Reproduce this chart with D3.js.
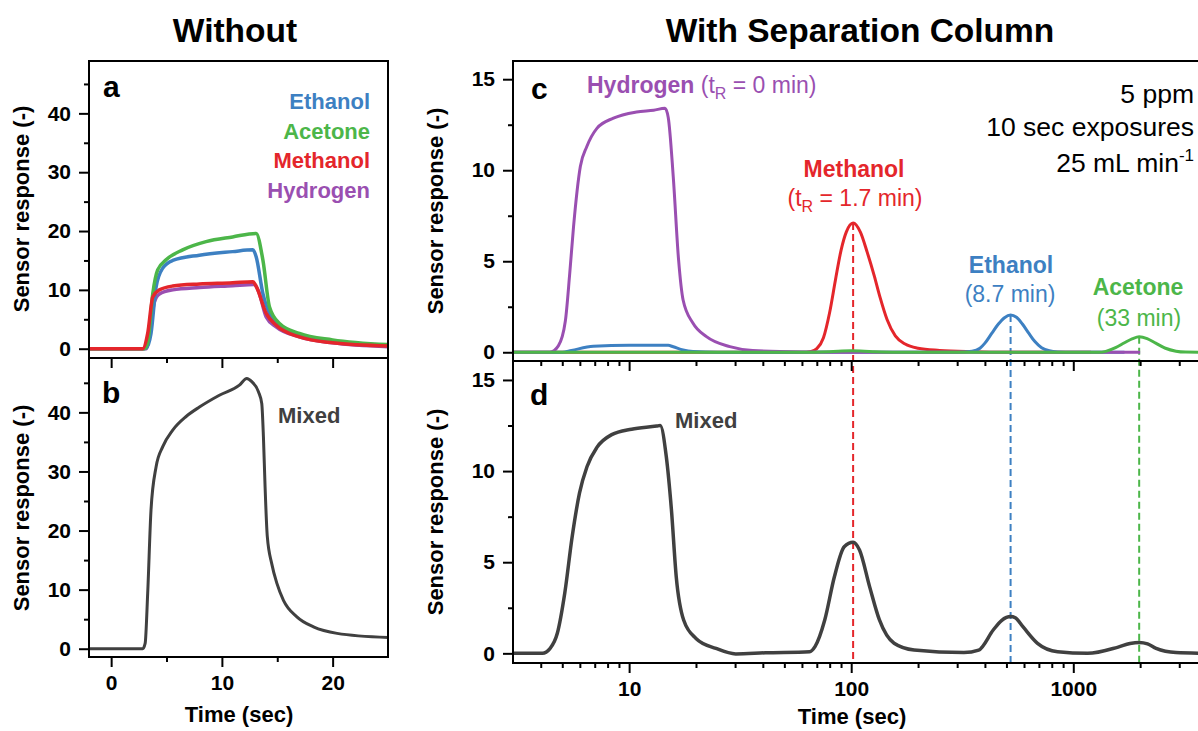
<!DOCTYPE html>
<html>
<head>
<meta charset="utf-8">
<script src="https://cdn.jsdelivr.net/npm/d3@7"></script>
<style>
  body { margin: 0; background: #fff; }
  svg { display: block; font-family: "Liberation Sans", Arial, sans-serif; }
</style>
</head>
<body>
<div id="chart"></div>
<script>
// ---- data: [time (sec), sensor response] ----
// panel a (no column, linear time)
var ethanolA  = [[-2,0],[2.9,0],[3.16,0.1],[3.6,2.6],[4.06,10.5],[4.66,13.7],[5.56,15.0],[7.97,15.9],[10.97,16.5],[12.8,16.8],[13.1,15.6],[13.7,9.4],[14.3,6.0],[15.5,3.7],[17,2.3],[20,1.2],[25,0.55]];
var acetoneA  = [[-2,0],[3.0,0],[3.3,1.0],[3.76,9.4],[4.2,13.4],[4.96,15.1],[6.46,16.8],[8.57,18.2],[10.97,19.0],[13.09,19.6],[13.7,15.1],[14.3,7.1],[15.2,4.3],[17,2.6],[20,1.5],[25,0.7]];
var methanolA = [[-2,0],[2.85,0],[3.3,2.6],[3.76,8.8],[4.36,10.0],[5.56,10.65],[7.97,11.0],[10.97,11.2],[12.8,11.4],[13.1,10.6],[14.0,6.0],[14.9,4.0],[17,2.0],[20,1.0],[25,0.45]];
var hydrogenA = [[-2,0],[3.16,0],[3.5,3.0],[3.9,7.9],[4.36,9.3],[5.56,10.0],[7.97,10.4],[10.97,10.7],[12.9,10.9],[13.3,9.8],[14.0,5.4],[14.9,3.7],[17,2.0],[20,1.0],[25,0.35]];
// panel b (mixed, no column)
var mixedB = [[-2,0],[2.85,0],[3.07,0.9],[3.3,9.4],[3.6,23.5],[4.06,30.8],[4.66,34.2],[5.56,37.0],[6.77,39.3],[7.97,40.9],[9.77,42.9],[11.58,44.6],[12.25,45.75],[12.7,45.2],[13.3,43.5],[13.6,41.5],[13.75,35.9],[13.9,27.4],[14.1,19.0],[14.5,14.4],[14.96,11.1],[15.56,8.2],[16.77,5.4],[18.27,3.7],[20.4,2.6],[25,1.9]];

// panel c (with separation column, log time)
var methanolC = [[3,0],[60,0],[66,0.05],[70,0.2],[75,0.8],[80,2.2],[85,4.0],[90,5.6],[95,6.6],[102,7.1],[110,6.6],[118,5.5],[127,4.2],[135,3.0],[145,1.8],[158,0.9],[175,0.45],[200,0.22],[250,0.1],[350,0.03],[500,0],[1200,0]];
var ethanolC  = [[3,0],[5,0],[5.5,0.1],[6.9,0.33],[10,0.38],[15,0.38],[15.8,0.3],[17.5,0.12],[19.4,0.04],[25,0],[300,0],[350,0.05],[380,0.22],[400,0.5],[430,1.05],[460,1.55],[490,1.9],[522,2.05],[555,1.92],[590,1.55],[630,1.05],[670,0.6],[720,0.25],[780,0.08],[850,0.02],[1000,0],[1700,0]];
var hydrogenC = [[3,0],[4.4,0],[4.8,0.35],[5.16,1.7],[5.4,4.3],[5.62,6.9],[6.03,10.2],[6.45,11.3],[7.16,12.3],[8.5,12.86],[10.8,13.2],[12.9,13.3],[14.5,13.4],[15.0,12.9],[15.8,9.65],[16.7,5.07],[17.5,2.87],[19.4,1.59],[22.3,0.86],[28.4,0.31],[36,0.1],[60,0.02],[100,0],[2000,0]];
var acetoneC  = [[3,0],[60,0],[80,0.03],[100,0.08],[125,0.03],[160,0],[1300,0],[1400,0.05],[1550,0.25],[1700,0.52],[1850,0.75],[1980,0.85],[2150,0.75],[2350,0.5],[2600,0.22],[2900,0.06],[3200,0.01],[4000,0]];
// panel d (mixed, with column)
var mixedD = [[3,0],[4.07,0],[4.4,0.26],[4.75,1.1],[5.13,3.3],[5.54,6.4],[5.98,8.8],[6.46,10.24],[7.16,11.3],[8.35,12.0],[10.26,12.3],[13.3,12.47],[13.8,12.5],[14.7,10.8],[15.5,7.9],[16.3,4.2],[17.6,1.83],[20,0.82],[24.6,0.27],[30.2,-0.03],[41.1,0.03],[65,0.09],[68.7,0.37],[76,1.83],[84,4.2],[93,5.85],[102,6.1],[109,5.67],[121,3.66],[134,1.83],[156,0.55],[192,0.18],[322,0.04],[375,0.18],[436,1.28],[475,1.8],[500,1.97],[522,2.02],[548,1.95],[593,1.46],[690,0.55],[850,0.09],[1160,0],[1580,0.33],[1800,0.54],[1980,0.6],[2160,0.52],[2360,0.27],[2900,0.04],[4000,0]];

// retention times (sec) for the dashed guides
var retention = [
  { name: "Methanol", t: 102,  series: methanolC },
  { name: "Ethanol",  t: 522,  series: ethanolC },
  { name: "Acetone",  t: 1980, series: acetoneC }
];

var ticksYab = [0, 10, 20, 30, 40], minorYab = [5, 15, 25, 35, 45];
var ticksYcd = [0, 5, 10, 15], minorYcd = [2.5, 7.5, 12.5];
var ticksXab = [0, 10, 20], minorXab = [5, 15];
var ticksXcd = [10, 100, 1000], minorXcd = [4,5,6,7,8,9,20,30,40,50,60,70,80,90,200,300,400,500,600,700,800,900,2000,3000];

var colors = { Ethanol: "#3d80c2", Acetone: "#4cb649", Methanol: "#e4262b", Hydrogen: "#9a4fb1", Mixed: "#404040" };
var FONT = "Liberation Sans, Arial, sans-serif";

var svg = d3.select("#chart").append("svg")
    .attr("width", 1198)
    .attr("height", 731);

// scales
var xLin = d3.scaleLinear().domain([-2, 25]).range([89, 388]);
var xLog = d3.scaleLog().domain([3, 4000]).range([513, 1207]);
var yA = d3.scaleLinear().domain([-1.58, 48.9]).range([358, 61]);
var yB = d3.scaleLinear().domain([-1.4, 49.2]).range([657, 358]);
var yC = d3.scaleLinear().domain([-0.48, 16]).range([361, 61]);
var yD = d3.scaleLinear().domain([-0.53, 16.04]).range([663, 361]);

// clip areas
var defs = svg.append("defs");
function clip(id, x, y) {
    defs.append("clipPath").attr("id", id).append("rect")
        .attr("x", x.range()[0]).attr("y", y.range()[1])
        .attr("width", x.range()[1] - x.range()[0])
        .attr("height", y.range()[0] - y.range()[1]);
}
clip("clipA", xLin, yA); clip("clipB", xLin, yB);
clip("clipC", xLog, yC); clip("clipD", xLog, yD);

// dashed retention guides (behind curves)
retention.forEach(function (r) {
    svg.append("line")
        .attr("x1", xLog(r.t)).attr("x2", xLog(r.t))
        .attr("y1", yC(d3.max(r.series, function (d) { return d[1]; })))
        .attr("y2", yD(yD.domain()[0]))
        .attr("stroke", colors[r.name])
        .attr("stroke-width", 2)
        .attr("stroke-dasharray", "7,4");
});

function drawLine(data, x, y, color, width, clipId) {
    var line = d3.line()
        .x(function (d) { return x(d[0]); })
        .y(function (d) { return y(d[1]); })
        .curve(d3.curveMonotoneX);
    svg.append("path")
        .datum(data)
        .attr("clip-path", "url(#" + clipId + ")")
        .attr("fill", "none")
        .attr("stroke", color)
        .attr("stroke-width", width)
        .attr("stroke-linejoin", "round")
        .attr("d", line);
}

drawLine(hydrogenA, xLin, yA, colors.Hydrogen, 3.5, "clipA");
drawLine(ethanolA, xLin, yA, colors.Ethanol, 3.5, "clipA");
drawLine(acetoneA, xLin, yA, colors.Acetone, 3.5, "clipA");
drawLine(methanolA, xLin, yA, colors.Methanol, 3.5, "clipA");
drawLine(mixedB, xLin, yB, colors.Mixed, 3, "clipB");

drawLine(methanolC, xLog, yC, colors.Methanol, 3, "clipC");
drawLine(ethanolC, xLog, yC, colors.Ethanol, 3, "clipC");
drawLine(hydrogenC, xLog, yC, colors.Hydrogen, 3, "clipC");
drawLine(acetoneC, xLog, yC, colors.Acetone, 3, "clipC");
drawLine(mixedD, xLog, yD, colors.Mixed, 3.5, "clipD");

// axes
function styleAxis(g) {
    g.select(".domain").remove();
    g.attr("font-family", FONT).attr("font-size", 21).attr("font-weight", "bold");
    g.selectAll("line").attr("stroke", "#000").attr("stroke-width", 2);
    g.selectAll("text").attr("fill", "#000");
}
function yAxis(y, x0, major, minor) {
    svg.append("g").attr("transform", "translate(" + x0 + ",0)")
        .call(d3.axisLeft(y).tickValues(minor).tickSize(5).tickFormat(""))
        .call(styleAxis);
    svg.append("g").attr("transform", "translate(" + x0 + ",0)")
        .call(d3.axisLeft(y).tickValues(major).tickSize(10).tickPadding(8))
        .call(styleAxis);
}
function xAxis(x, y0, major, minor, labels) {
    svg.append("g").attr("transform", "translate(0," + y0 + ")")
        .call(d3.axisBottom(x).tickValues(minor).tickSize(5).tickFormat(""))
        .call(styleAxis);
    var ax = d3.axisBottom(x).tickValues(major).tickSize(10).tickPadding(8);
    if (!labels) ax.tickFormat("");
    else ax.tickFormat(d3.format("d"));
    svg.append("g").attr("transform", "translate(0," + y0 + ")")
        .call(ax)
        .call(styleAxis);
}

yAxis(yA, 89, ticksYab, minorYab);
yAxis(yB, 89, ticksYab, minorYab);
yAxis(yC, 513, ticksYcd, minorYcd);
yAxis(yD, 513, ticksYcd, minorYcd);
xAxis(xLin, 358, ticksXab, minorXab, false);
xAxis(xLin, 657, ticksXab, minorXab, true);
xAxis(xLog, 361, ticksXcd, minorXcd, false);
xAxis(xLog, 663, ticksXcd, minorXcd, true);

// frames
[[xLin, yA], [xLin, yB], [xLog, yC], [xLog, yD]].forEach(function (p) {
    svg.append("rect")
        .attr("x", p[0].range()[0]).attr("y", p[1].range()[1])
        .attr("width", p[0].range()[1] - p[0].range()[0])
        .attr("height", p[1].range()[0] - p[1].range()[1])
        .attr("fill", "none").attr("stroke", "#000").attr("stroke-width", 2);
});

// text helper
function label(x, y, txt, opts) {
    opts = opts || {};
    return svg.append("text")
        .attr("x", x).attr("y", y)
        .attr("font-family", FONT)
        .attr("font-size", opts.size || 22)
        .attr("font-weight", opts.weight || "bold")
        .attr("fill", opts.color || "#000")
        .attr("text-anchor", opts.anchor || "start")
        .text(txt);
}

// titles
label(235, 42, "Without", { size: 33.5, anchor: "middle" });
label(860, 42, "With Separation Column", { size: 33.5, anchor: "middle" });

// panel letters
label(103, 97, "a", { size: 30 });
label(102, 403, "b", { size: 30 });
label(531, 99, "c", { size: 30 });
label(530, 405, "d", { size: 30 });

// axis titles
label(239, 722, "Time (sec)", { anchor: "middle" });
label(852, 724, "Time (sec)", { anchor: "middle" });
[[29, 209], [29, 508], [443, 211], [443, 512]].forEach(function (p) {
    label(0, 0, "Sensor response (-)", { anchor: "middle" })
        .attr("transform", "translate(" + p[0] + "," + p[1] + ") rotate(-90)");
});

// legend a
label(370, 109, "Ethanol", { color: colors.Ethanol, anchor: "end" });
label(370, 139, "Acetone", { color: colors.Acetone, anchor: "end" });
label(370, 168, "Methanol", { color: colors.Methanol, anchor: "end" });
label(370, 198, "Hydrogen", { color: colors.Hydrogen, anchor: "end" });

label(278, 423, "Mixed", { color: colors.Mixed });
label(675, 428, "Mixed", { color: colors.Mixed });

// panel c annotations
function tR(t, after) {
    t.append("tspan").attr("font-weight", "normal").text("(t");
    t.append("tspan").attr("font-weight", "normal").attr("font-size", 16).attr("dy", 6).text("R");
    t.append("tspan").attr("font-weight", "normal").attr("dy", -6).text(after);
}
var h = label(587, 93, "Hydrogen ", { size: 23, color: colors.Hydrogen });
tR(h, " = 0 min)");
label(854, 177, "Methanol", { size: 23, color: colors.Methanol, anchor: "middle" });
var m = label(855, 206, "", { size: 23, color: colors.Methanol, anchor: "middle" });
tR(m, " = 1.7 min)");
label(1011, 273, "Ethanol", { size: 23, color: colors.Ethanol, anchor: "middle" });
label(1010, 302, "(8.7 min)", { size: 23, color: colors.Ethanol, anchor: "middle", weight: "normal" });
label(1138, 295, "Acetone", { size: 23, color: colors.Acetone, anchor: "middle" });
label(1139, 326, "(33 min)", { size: 23, color: colors.Acetone, anchor: "middle", weight: "normal" });

label(1194, 103, "5 ppm", { size: 26.5, anchor: "end", weight: "normal" });
label(1194, 136, "10 sec exposures", { size: 26.5, anchor: "end", weight: "normal" });
var f = label(1194, 172, "25 mL min", { size: 26.5, anchor: "end", weight: "normal" });
f.append("tspan").attr("font-size", 17).attr("dy", -11).text("-1");
</script>
</body>
</html>
